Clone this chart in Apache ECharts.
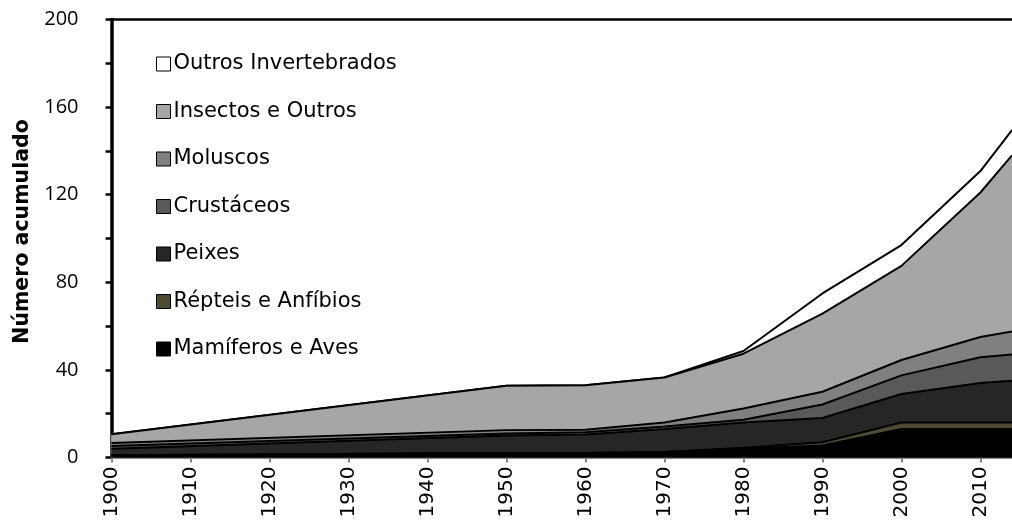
<!DOCTYPE html>
<html>
<head>
<meta charset="utf-8">
<script src="https://cdn.jsdelivr.net/npm/echarts@6/dist/echarts.min.js"></script>
<style>
  html, body { margin: 0; padding: 0; background: #fff; }
  #chart { width: 1012px; height: 526px; }
</style>
</head>
<body>
<div id="chart"></div>
<script>
// ---- Data ----
const years = [1900, 1950, 1960, 1970, 1980, 1990, 2000, 2010, 2014];
const mamiferosAves      = [1,   2,    2,    2.5,  4,    5.5,  13,  13,   13];
const repteisAnfibios    = [0,   0,    0,    0,    0.5,  1.5,  3,   3,    3];
const peixes             = [3,   8,    8.5,  10.5, 11.5, 11,   13,  18,   19];
const crustaceos         = [1.3, 1,    1,    1.2,  1.2,  6.2,  8.5, 11.8, 12];
const moluscos           = [1.3, 1.5,  1.2,  1.8,  5.2,  5.8,  7,   9.2,  10.5];
const insectosOutros     = [4,   20.3, 20.3, 20.5, 25,   35.7, 43,  66,   80.5];
const outrosInvertebrados= [0,   0,    0,    0,    1.2,  9.2,  9.5, 9.8,  11.5];

const seriesNames = ['Mamíferos e Aves', 'Répteis e Anfíbios', 'Peixes', 'Crustáceos', 'Moluscos', 'Insectos e Outros', 'Outros Invertebrados'];
const seriesValues = [mamiferosAves, repteisAnfibios, peixes, crustaceos, moluscos, insectosOutros, outrosInvertebrados];
const seriesColors = ['#000000', '#4f4b32', '#262626', '#595959', '#808080', '#a6a6a6', '#ffffff'];

const yTickLabels = [0, 40, 80, 120, 160, 200];
const yAxisTitle = 'Número acumulado';

// cumulative (stacked) totals built from the series arrays
const cumulative = [];
seriesValues.forEach((vals, i) => {
  cumulative.push(vals.map((v, k) => v + (i > 0 ? cumulative[i - 1][k] : 0)));
});

const chart = echarts.init(document.getElementById('chart'), null, { renderer: 'canvas' });

// Draw the tallest cumulative area first so lower layers sit on top
const series = seriesNames.map((name, i) => ({
  name: name,
  type: 'line',
  xAxisIndex: 0,
  symbol: 'none',
  smooth: false,
  z: 2 + (seriesNames.length - i) * 0.01,
  color: seriesColors[i],
  lineStyle: { color: '#000', width: 2 },
  areaStyle: { color: seriesColors[i], opacity: 1, origin: 'start' },
  data: years.map((y, k) => [y, cumulative[i][k]])
})).reverse();

const option = {
  animation: false,
  backgroundColor: '#fff',
  grid: { left: 111.5, right: 0, top: 19.5, bottom: 68.5, containLabel: false },
  legend: {
    orient: 'vertical',
    left: 151,
    top: 48.5,
    icon: 'rect',
    itemWidth: 14,
    itemHeight: 14,
    itemGap: 26.5,
    itemStyle: { borderColor: '#000', borderWidth: 1 },
    textStyle: { fontFamily: 'DejaVu Sans', fontSize: 21, color: '#000', lineHeight: 19, padding: [0, 0, 0, -2] },
    data: seriesNames.slice().reverse()
  },
  xAxis: [
    {
      type: 'value',
      min: 1900,
      max: 2014,
      interval: 10,
      axisLine: { show: true, lineStyle: { color: '#868686', width: 2 } },
      axisTick: { show: true, length: 5, lineStyle: { color: '#868686', width: 2 } },
      splitLine: { show: false },
      axisLabel: {
        rotate: 90,
        margin: 9,
        fontFamily: 'DejaVu Sans',
        fontSize: 20,
        color: '#000',
        showMaxLabel: false,
        formatter: v => (v % 10 === 0 ? String(v) : '')
      }
    },
    {
      type: 'value',
      position: 'top',
      min: 1900,
      max: 2014,
      axisLine: { show: true, lineStyle: { color: '#000', width: 2.5 } },
      axisTick: { show: false },
      axisLabel: { show: false },
      splitLine: { show: false }
    }
  ],
  yAxis: {
    type: 'value',
    min: 0,
    max: 200,
    interval: 20,
    name: yAxisTitle,
    nameLocation: 'middle',
    nameRotate: 90,
    nameGap: 72,
    nameTextStyle: { fontFamily: 'DejaVu Sans', fontWeight: 'bold', fontSize: 20.5, color: '#000', padding: [0, 0, 0, 14] },
    axisLine: { show: true, lineStyle: { color: '#000', width: 3.5 } },
    axisTick: { show: true, length: 6, lineStyle: { color: '#000', width: 2.5 } },
    splitLine: { show: false },
    axisLabel: {
      margin: 33,
      fontFamily: 'Open Sans',
      fontSize: 20,
      color: '#000',
      formatter: v => (yTickLabels.indexOf(v) >= 0 ? String(v) : '')
    }
  },
  series: series
};

chart.setOption(option);
</script>
</body>
</html>
